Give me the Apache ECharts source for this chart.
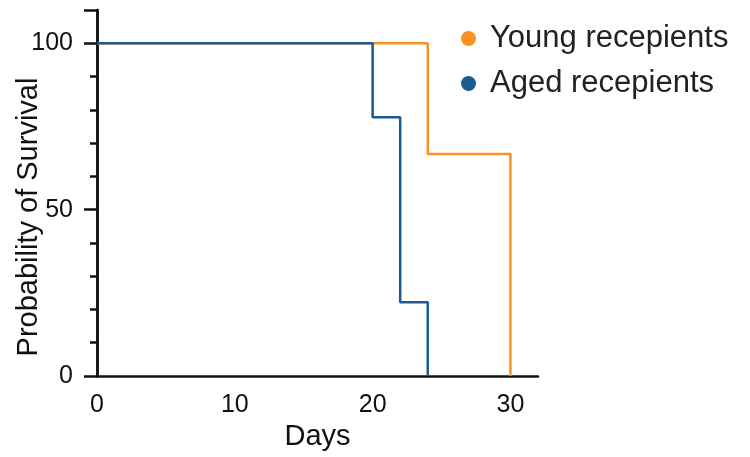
<!DOCTYPE html>
<html>
<head>
<meta charset="utf-8">
<script src="https://cdn.jsdelivr.net/npm/echarts@6/dist/echarts.min.js"></script>
<style>
  html, body { margin: 0; padding: 0; background: #fff; }
  #chart { width: 750px; height: 457px; }
</style>
</head>
<body>
<div id="chart"></div>
<script>
// Kaplan-Meier steps (days, % surviving)
var youngDays = [0, 24, 30];
var youngSurv = [100, 66.7, 0];
var agedDays = [0, 20, 22, 24];
var agedSurv = [100, 77.8, 22.2, 0];
var seriesNames = ["Young recepients", "Aged recepients"];
var xTicks = [0, 10, 20, 30];
var yTicks = [0, 50, 100];

var FONT = "Liberation Sans, Arial, sans-serif";
var orange = "#F7931E";
var blue = "#1B5A92";

function pairs(xs, ys) {
  return xs.map(function (x, i) {
    return [x, ys[i]];
  });
}

var myChart = echarts.init(document.getElementById("chart"));
var option = {
  animation: false,
  textStyle: { fontFamily: FONT },
  grid: { left: 97, right: 212, top: 10, bottom: 81, outerBoundsMode: "none" },
  legend: {
    orient: "vertical",
    left: 456,
    top: 18,
    itemGap: 14,
    icon: "circle",
    itemWidth: 15,
    itemHeight: 15,
    textStyle: { fontSize: 31, color: "#222", fontFamily: FONT, padding: [0, 0, 0, 9] },
    data: seriesNames,
  },
  xAxis: {
    type: "value",
    min: 0,
    max: 32,
    interval: 10,
    name: "Days",
    nameLocation: "middle",
    nameGap: 46,
    nameTextStyle: { fontSize: 29, color: "#111" },
    axisLine: { show: true, onZero: false, lineStyle: { color: "#111", width: 2.5 } },
    axisTick: { show: false },
    splitLine: { show: false },
    axisLabel: {
      fontSize: 25,
      color: "#111",
      margin: 17,
      formatter: function (v) {
        return xTicks.indexOf(v) >= 0 ? v : "";
      },
    },
  },
  yAxis: [
    {
      // short ticks every 10
      type: "value",
      position: "left",
      offset: 0,
      min: 0,
      max: 110,
      interval: 10,
      axisLine: { show: true, onZero: false, lineStyle: { color: "#111", width: 2.5 } },
      axisTick: { show: true, length: 7, lineStyle: { color: "#111", width: 2.5 } },
      axisLabel: { show: false },
      splitLine: { show: false },
    },
    {
      // long ticks + labels at 0, 50, 100
      type: "value",
      position: "left",
      offset: 0,
      min: 0,
      max: 110,
      interval: 50,
      name: "Probability of Survival",
      nameLocation: "middle",
      nameGap: 54,
      nameMoveOverlap: false,
      nameTextStyle: { fontSize: 29, color: "#111", padding: [0, 48, 0, 0] },
      axisLine: { show: true, onZero: false, lineStyle: { color: "#111", width: 2.5 } },
      axisTick: { show: true, length: 13, lineStyle: { color: "#111", width: 2.5 } },
      axisLabel: {
        fontSize: 25,
        color: "#111",
        margin: 24,
        formatter: function (v) {
          return yTicks.indexOf(v) >= 0 ? v : "";
        },
      },
      splitLine: { show: false },
    },
  ],
  series: [
    {
      name: seriesNames[0],
      type: "line",
      step: "end",
      yAxisIndex: 0,
      data: pairs(youngDays, youngSurv),
      symbol: "none",
      lineStyle: { color: orange, width: 2.5 },
      itemStyle: { color: orange },
    },
    {
      name: seriesNames[1],
      type: "line",
      step: "end",
      yAxisIndex: 0,
      data: pairs(agedDays, agedSurv),
      symbol: "none",
      lineStyle: { color: blue, width: 2.5 },
      itemStyle: { color: blue },
    },
  ],
};
myChart.setOption(option);
</script>
</body>
</html>
